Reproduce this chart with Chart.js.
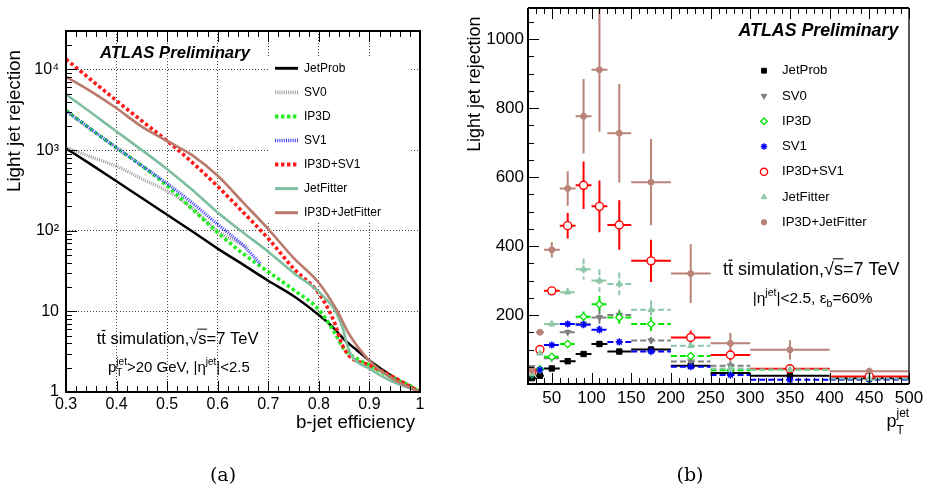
<!DOCTYPE html>
<html><head><meta charset="utf-8">
<script src="https://cdn.jsdelivr.net/npm/chart.js@4.4.1/dist/chart.umd.min.js"></script>
<style>
html,body{margin:0;padding:0;background:#fff;width:926px;height:489px;overflow:hidden;}
#wrapA{position:absolute;left:0;top:0;width:460px;height:489px;}
#wrapB{position:absolute;left:460px;top:0;width:466px;height:489px;}
.cap{position:absolute;top:463px;width:100px;text-align:center;font-family:"DejaVu Serif","Liberation Serif",serif;font-size:19px;line-height:22px;color:#000;}
</style></head><body>
<div id="wrapA"><canvas id="cA" width="460" height="489" style="width:460px;height:489px"></canvas></div>
<div id="wrapB"><canvas id="cB" width="466" height="489" style="width:466px;height:489px"></canvas></div>
<div class="cap" style="left:173px">(a)</div>
<div class="cap" style="left:640px">(b)</div>
<script>
const SANS = '"Liberation Sans", Arial, Helvetica, sans-serif';

// ---------------- Panel (a): light-jet rejection vs b-jet efficiency ----------------
const taggerNames = ['JetProb','SV0','IP3D','SV1','IP3D+SV1','JetFitter','IP3D+JetFitter'];

const effJetProb = [0.3,0.35,0.4,0.45,0.5,0.55,0.6,0.65,0.7,0.75,0.8,0.825,0.85,0.875,0.9,0.95,1.0];
const rejJetProb = [1050,660,410,255,158,98,60,38,24,15.5,9,6.6,4.5,3.3,2.45,1.5,1];

const effSV0 = [0.3,0.35,0.4,0.45,0.5,0.55,0.6,0.66];
const rejSV0 = [1080,820,630,440,310,190,100,62];

const effIP3D = [0.3,0.35,0.4,0.45,0.5,0.55,0.6,0.65,0.7,0.75,0.8,0.83,0.85,0.875,0.9,0.95,0.975,1.0];
const rejIP3D = [3100,1800,1060,640,360,185,95,52,31,18.5,10.5,5.6,3.4,2.6,2.15,1.45,1.25,1];

const effSV1 = [0.3,0.35,0.4,0.45,0.5,0.55,0.6,0.65,0.684];
const rejSV1 = [3050,1800,1070,640,385,220,120,66,39];

const effIP3DSV1 = [0.3,0.35,0.4,0.45,0.5,0.55,0.6,0.65,0.7,0.75,0.8,0.83,0.845,0.86,0.9,0.95,1.0];
const rejIP3DSV1 = [13400,7400,4100,2300,1300,700,355,170,80,34,16.7,7.5,4,2.8,2.15,1.5,1];

const effJetFitter = [0.3,0.35,0.4,0.45,0.5,0.55,0.6,0.65,0.7,0.75,0.8,0.833,0.84,0.848,0.855,0.865,0.9,0.94,1.0];
const rejJetFitter = [4900,2900,1700,1000,580,320,168,95,55,30,17.5,10,8,6,4,2.8,1.95,1.4,1];

const effIP3DJF = [0.3,0.35,0.4,0.45,0.5,0.55,0.6,0.65,0.7,0.75,0.8,0.835,0.86,0.9,0.95,1.0];
const rejIP3DJF = [8100,5300,3300,1950,1300,860,480,225,105,46,22.5,10.5,5.2,2.45,1.4,1];

const effTicks = [0.3,0.4,0.5,0.6,0.7,0.8,0.9,1.0];
const rejTicks = [1,10,100,1000,10000];
const rejTickLabels = ['1','10','10\u00B2','10\u00B3','10\u2074'];

// ---------------- Panel (b): light-jet rejection vs pT (eff_b = 60%) ----------------
const ptCenter = [25,35,50,70,90,110,135,175,225,275,350,450];
const ptLow    = [20,30,40,60,80,100,120,150,200,250,300,400];
const ptHigh   = [30,40,60,80,100,120,150,200,250,300,400,500];

const ptJetProb   = [17,24,45,66,87,116,94,100,53,32,24,17];
const errJetProb  = [2,2,3,4,5,8,6,8,5,5,4,5];
const ptSV0       = [48,40,75,150,174,193,200,126,65,53,43,18];
const errSV0      = [5,4,5,8,10,25,15,10,8,14,8,6];
const ptIP3D      = [28,43,79,116,195,231,193,174,81,40,42,14];
const errIP3D     = [4,4,6,8,15,25,18,20,8,6,6,4];
const ptSV1       = [30,41,113,174,172,157,122,94,50,26,12,13];
const errSV1      = [3,4,6,8,10,12,8,6,4,3,2,3];
const ptIP3DSV1   = [36,100,270,459,576,515,461,357,135,84,44,22];
const errIP3DSV1  = [4,8,12,37,69,75,72,61,20,16,8,5];
const ptJetFitter = [30,89,174,266,333,300,290,215,111,45,42,16];
const errJetFitter= [4,5,8,12,31,33,33,27,10,8,6,4];
const ptIP3DJF    = [40,150,389,567,776,911,727,585,320,118,99,37];
const errIP3DJF   = [6,8,22,50,108,180,143,125,85,30,28,10];

const ptTicks = [50,100,150,200,250,300,350,400,450,500];
const rejLinTicks = [200,400,600,800,1000];

// ---------------- helpers ----------------
function rich(ctx, segs, x, y, align, color) {
  const lay = (draw, x0) => {
    let cx = x0, last = x0;
    for (const s of segs) {
      ctx.font = (s.w || '') + ' ' + s.size + 'px ' + SANS;
      const w = ctx.measureText(s.t).width;
      const sx = s.stack ? last : cx;
      const by = y + (s.dy || 0);
      if (draw) {
        ctx.fillText(s.t, sx, by);
        if (s.bar) {
          ctx.beginPath(); ctx.lineWidth = Math.max(1, s.size * 0.07);
          const yb = by - s.size * 0.82;
          ctx.moveTo(sx + 0.5, yb); ctx.lineTo(sx + w - 0.5, yb); ctx.stroke();
        }
        if (s.rad) {
          ctx.beginPath(); ctx.lineWidth = Math.max(1, s.size * 0.06);
          const yb = by - s.size * 0.9;
          ctx.moveTo(sx - 1, yb); ctx.lineTo(sx + w + 0.5, yb); ctx.stroke();
        }
      }
      if (s.stack) cx = Math.max(cx, sx + w); else { last = cx; cx += w; }
    }
    return cx - x0;
  };
  ctx.save();
  ctx.fillStyle = color || '#000'; ctx.strokeStyle = color || '#000';
  ctx.textAlign = 'left'; ctx.textBaseline = 'alphabetic';
  const w = lay(false, 0);
  const x0 = align === 'right' ? x - w : (align === 'center' ? x - w / 2 : x);
  lay(true, x0);
  ctx.restore();
}
function fixScale(prop, val) {
  return function (scale) {
    scale[prop] = val;
    scale.paddingTop = 0; scale.paddingBottom = 0; scale.paddingLeft = 0; scale.paddingRight = 0;
  };
}
function setTicks(list) {
  return function (scale) { scale.ticks = list.map(v => ({ value: v })); };
}
function drawMarker(ctx, opts, x, y) {
  if (Chart.helpers && Chart.helpers.drawPoint) { Chart.helpers.drawPoint(ctx, opts, x, y); return; }
  ctx.beginPath(); ctx.arc(x, y, opts.radius, 0, Math.PI * 2); ctx.fill(); ctx.stroke();
}

// ---------------- Chart (a) ----------------
const lineStyleA = [
  { c: '#000000', w: 2.5, d: [] },
  { c: '#9a9a9a', w: 3.2, d: [1, 1.2] },
  { c: '#22ee22', w: 3.6, d: [3.4, 2.6] },
  { c: '#3838ff', w: 3.2, d: [1, 1.2] },
  { c: '#ff1a1a', w: 3.6, d: [3.4, 2.6] },
  { c: '#7dbf9f', w: 2.6, d: [] },
  { c: '#b97a6d', w: 2.6, d: [] }
];
const seriesA = [
  [effJetProb, rejJetProb], [effSV0, rejSV0], [effIP3D, rejIP3D], [effSV1, rejSV1],
  [effIP3DSV1, rejIP3DSV1], [effJetFitter, rejJetFitter], [effIP3DJF, rejIP3DJF]
];
const dataA = {
  datasets: seriesA.map((s, i) => ({
    label: taggerNames[i],
    data: s[0].map((x, k) => ({ x: x, y: s[1][k] })),
    borderColor: lineStyleA[i].c,
    borderWidth: lineStyleA[i].w,
    borderDash: lineStyleA[i].d,
    pointRadius: 0,
    fill: false,
    cubicInterpolationMode: 'monotone',
    order: 10 - i
  }))
};

const pluginA = {
  id: 'pluginA',
  beforeDatasetsDraw(chart) {
    const ctx = chart.ctx;
    ctx.save(); ctx.fillStyle = '#fff';
    ctx.fillRect(268, 58, 142, 164);
    ctx.restore();
  },
  afterDraw(chart) {
    const { ctx, chartArea: ca, scales: { x, y } } = chart;
    ctx.save();
    ctx.strokeStyle = '#000'; ctx.lineWidth = 1;
    ctx.beginPath();
    for (let k = 0; k <= 35; k++) {
      const v = 0.3 + k * 0.02;
      const px = Math.round(x.getPixelForValue(v)) + 0.5;
      const len = (k % 5 === 0) ? 11 : 6;
      ctx.moveTo(px, ca.bottom); ctx.lineTo(px, ca.bottom - len);
      ctx.moveTo(px, ca.top); ctx.lineTo(px, ca.top + len);
    }
    for (let n = 0; n <= 4; n++) for (let m = 1; m <= 9; m++) {
      const v = m * Math.pow(10, n); if (v > y.max) break;
      const py = Math.round(y.getPixelForValue(v)) + 0.5;
      const len = m === 1 ? 11 : 6;
      ctx.moveTo(ca.left, py); ctx.lineTo(ca.left + len, py);
    }
    ctx.stroke();
    ctx.lineWidth = 2;
    ctx.strokeRect(ca.left, ca.top, ca.right - ca.left, ca.bottom - ca.top);

    // legend
    chart.data.datasets.forEach((ds, i) => {
      const yy = 68.3 + i * 24.07;
      ctx.save();
      ctx.strokeStyle = ds.borderColor; ctx.lineWidth = ds.borderWidth + 0.4;
      ctx.setLineDash(ds.borderDash || []);
      ctx.beginPath(); ctx.moveTo(275, yy); ctx.lineTo(298, yy); ctx.stroke();
      ctx.restore();
      ctx.fillStyle = '#000'; ctx.font = '12px ' + SANS;
      ctx.textBaseline = 'middle'; ctx.textAlign = 'left';
      ctx.fillText(ds.label, 304, yy);
    });

    // texts
    rich(ctx, [{ t: 'ATLAS Preliminary', size: 16.7, w: 'italic bold' }], 100, 58, 'left');
    rich(ctx, [
      { t: 't', size: 16.5 }, { t: 't', size: 16.5, bar: true }, { t: ' simulation,', size: 16.5 },
      { t: '\u221A', size: 16.5 }, { t: 's', size: 16.5, rad: true }, { t: '=7 TeV', size: 16.5 }
    ], 96.7, 344, 'left');
    rich(ctx, [
      { t: 'p', size: 15 }, { t: 'jet', size: 10, dy: -7 }, { t: 'T', size: 10, dy: 4, stack: true },
      { t: '>20 GeV, |\u03B7', size: 15 }, { t: 'jet', size: 10, dy: -7 }, { t: '|<2.5', size: 15 }
    ], 108, 372, 'left');
    rich(ctx, [{ t: 'b-jet efficiency', size: 18.7 }], 415, 428, 'right');
    ctx.save();
    ctx.translate(20, 121); ctx.rotate(-Math.PI / 2);
    ctx.font = '18.8px ' + SANS; ctx.fillStyle = '#000';
    ctx.textAlign = 'center'; ctx.textBaseline = 'alphabetic';
    ctx.fillText('Light jet rejection', 0, 0);
    ctx.restore();
    ctx.restore();
  }
};

new Chart(document.getElementById('cA'), {
  type: 'line',
  data: dataA,
  options: {
    responsive: false, maintainAspectRatio: false, animation: false,
    layout: { padding: { left: 0, top: 31, right: 40, bottom: 0 } },
    plugins: { legend: { display: false }, tooltip: { enabled: false } },
    scales: {
      x: {
        type: 'linear', min: 0.3, max: 1.0, bounds: 'data',
        afterBuildTicks: setTicks(effTicks),
        afterFit: fixScale('height', 97),
        grid: { color: '#444', lineWidth: 1, drawTicks: false },
        border: { display: false, dash: [1, 2] },
        ticks: { color: '#000', padding: 3, font: { family: SANS, size: 16 }, maxRotation: 0,
          callback: v => String(+Number(v).toFixed(1)) }
      },
      y: {
        type: 'logarithmic', min: 1, max: 30000,
        afterBuildTicks: setTicks(rejTicks),
        afterFit: fixScale('width', 66),
        grid: { color: '#444', lineWidth: 1, drawTicks: false },
        border: { display: false, dash: [1, 2] },
        ticks: { color: '#000', padding: 7, font: { family: SANS, size: 16 },
          callback: v => { const k = rejTicks.indexOf(Math.round(v)); return k >= 0 ? rejTickLabels[k] : ''; } }
      }
    }
  },
  plugins: [pluginA]
});

// ---------------- Chart (b) ----------------
const markerB = [
  { c: '#000000', bg: '#000000', ps: 'rect', r: 3.8, rot: 0, bw: 1, dash: [] },
  { c: '#808080', bg: '#808080', ps: 'triangle', r: 3.6, rot: 180, bw: 1, dash: [6, 3] },
  { c: '#00e600', bg: '#ffffff', ps: 'rectRot', r: 3.6, rot: 0, bw: 1.3, dash: [6, 3] },
  { c: '#0000ff', bg: '#0000ff', ps: 'star', r: 3.6, rot: 0, bw: 1.4, dash: [6, 3] },
  { c: '#ff0000', bg: '#ffffff', ps: 'circle', r: 4, rot: 0, bw: 1.4, dash: [] },
  { c: '#8ec7a8', bg: '#8ec7a8', ps: 'triangle', r: 3.6, rot: 0, bw: 1, dash: [6, 3] },
  { c: '#b98378', bg: '#b98378', ps: 'circle', r: 3, rot: 0, bw: 1, dash: [] }
];
const seriesB = [
  [ptJetProb, errJetProb], [ptSV0, errSV0], [ptIP3D, errIP3D], [ptSV1, errSV1],
  [ptIP3DSV1, errIP3DSV1], [ptJetFitter, errJetFitter], [ptIP3DJF, errIP3DJF]
];
const dataB = {
  datasets: seriesB.map((s, i) => ({
    label: taggerNames[i],
    data: ptCenter.map((x, k) => ({ x: x, y: s[0][k] })),
    errors: s[1],
    barDash: markerB[i].dash,
    borderColor: markerB[i].c,
    backgroundColor: markerB[i].bg,
    pointStyle: markerB[i].ps,
    pointRadius: markerB[i].r,
    pointRotation: markerB[i].rot,
    pointBorderWidth: markerB[i].bw,
    showLine: false,
    order: 10 - i
  }))
};

const pluginB = {
  id: 'pluginB',
  beforeDatasetsDraw(chart) {
    const { ctx, chartArea: ca, scales: { x, y } } = chart;
    ctx.save();
    ctx.beginPath(); ctx.rect(ca.left, ca.top, ca.right - ca.left, ca.bottom - ca.top); ctx.clip();
    chart.data.datasets.forEach((ds) => {
      ctx.save();
      ctx.strokeStyle = ds.borderColor; ctx.lineWidth = 2;
      ctx.setLineDash(ds.barDash || []);
      ds.data.forEach((p, k) => {
        const yc = y.getPixelForValue(p.y);
        const xc = x.getPixelForValue(p.x);
        ctx.beginPath();
        ctx.moveTo(x.getPixelForValue(ptLow[k]), yc); ctx.lineTo(x.getPixelForValue(ptHigh[k]), yc);
        ctx.moveTo(xc, y.getPixelForValue(p.y + ds.errors[k])); ctx.lineTo(xc, y.getPixelForValue(p.y - ds.errors[k]));
        ctx.stroke();
      });
      ctx.restore();
    });
    ctx.restore();
  },
  afterDraw(chart) {
    const { ctx, chartArea: ca, scales: { x, y } } = chart;
    ctx.save();
    ctx.strokeStyle = '#000'; ctx.lineWidth = 1;
    ctx.beginPath();
    for (let v = 20; v <= 500; v += 10) {
      const px = Math.round(x.getPixelForValue(v)) + 0.5;
      const len = (v % 50 === 0) ? 11 : 6;
      ctx.moveTo(px, ca.bottom); ctx.lineTo(px, ca.bottom - len);
      ctx.moveTo(px, ca.top); ctx.lineTo(px, ca.top + len);
    }
    for (let v = 50; v <= 1050; v += 50) {
      const py = Math.round(y.getPixelForValue(v)) + 0.5;
      const len = (v % 200 === 0) ? 11 : 6;
      ctx.moveTo(ca.left, py); ctx.lineTo(ca.left + len, py);
    }
    ctx.stroke();
    ctx.lineWidth = 2;
    ctx.beginPath();
    ctx.moveTo(ca.left, ca.top); ctx.lineTo(ca.left, ca.bottom); ctx.lineTo(ca.right, ca.bottom);
    ctx.moveTo(ca.left, ca.top); ctx.lineTo(ca.right, ca.top);
    ctx.stroke();
    ctx.lineWidth = 1.3;
    ctx.beginPath(); ctx.moveTo(ca.right, ca.top); ctx.lineTo(ca.right, ca.bottom); ctx.stroke();

    // legend
    chart.data.datasets.forEach((ds, i) => {
      const yy = 70.7 + i * 25.27;
      ctx.save();
      ctx.fillStyle = ds.backgroundColor; ctx.strokeStyle = ds.borderColor;
      ctx.lineWidth = ds.pointBorderWidth;
      drawMarker(ctx, { pointStyle: ds.pointStyle, radius: ds.pointRadius * 0.9, rotation: ds.pointRotation, borderWidth: ds.pointBorderWidth }, 304, yy);
      ctx.restore();
      ctx.fillStyle = '#000'; ctx.font = '13.2px ' + SANS;
      ctx.textBaseline = 'middle'; ctx.textAlign = 'left';
      ctx.fillText(ds.label, 322, yy);
    });

    rich(ctx, [{ t: 'ATLAS Preliminary', size: 17.8, w: 'italic bold' }], 438.3, 35.7, 'right');
    rich(ctx, [
      { t: 't', size: 18 }, { t: 't', size: 18, bar: true }, { t: ' simulation,', size: 18 },
      { t: '\u221A', size: 18 }, { t: 's', size: 18, rad: true }, { t: '=7 TeV', size: 18 }
    ], 263, 275, 'left');
    rich(ctx, [
      { t: '|\u03B7', size: 15.5 }, { t: 'jet', size: 10.5, dy: -7 }, { t: '|<2.5, \u03B5', size: 15.5 },
      { t: 'b', size: 10.5, dy: 4 }, { t: '=60%', size: 15.5 }
    ], 292.7, 303, 'left');
    rich(ctx, [
      { t: 'p', size: 18 }, { t: 'jet', size: 12, dy: -10 }, { t: 'T', size: 12, dy: 7, stack: true }
    ], 426.5, 427, 'left');
    ctx.save();
    ctx.translate(19.5, 84.2); ctx.rotate(-Math.PI / 2);
    ctx.font = '17.9px ' + SANS; ctx.fillStyle = '#000';
    ctx.textAlign = 'center'; ctx.textBaseline = 'alphabetic';
    ctx.fillText('Light jet rejection', 0, 0);
    ctx.restore();
    ctx.restore();
  }
};

new Chart(document.getElementById('cB'), {
  type: 'scatter',
  data: dataB,
  options: {
    responsive: false, maintainAspectRatio: false, animation: false,
    layout: { padding: { left: 0, top: 8, right: 17, bottom: 0 } },
    plugins: { legend: { display: false }, tooltip: { enabled: false } },
    scales: {
      x: {
        type: 'linear', min: 20, max: 500, bounds: 'data',
        afterBuildTicks: setTicks(ptTicks),
        afterFit: fixScale('height', 105),
        grid: { display: false, drawTicks: false },
        border: { display: false },
        ticks: { color: '#000', padding: 4, font: { family: SANS, size: 17 }, maxRotation: 0,
          callback: v => String(v) }
      },
      y: {
        type: 'linear', min: 0, max: 1090, bounds: 'data',
        afterBuildTicks: setTicks(rejLinTicks),
        afterFit: fixScale('width', 68),
        grid: { display: false, drawTicks: false },
        border: { display: false },
        ticks: { color: '#000', padding: 4, font: { family: SANS, size: 17 },
          callback: v => String(v) }
      }
    }
  },
  plugins: [pluginB]
});
</script>
</body></html>
